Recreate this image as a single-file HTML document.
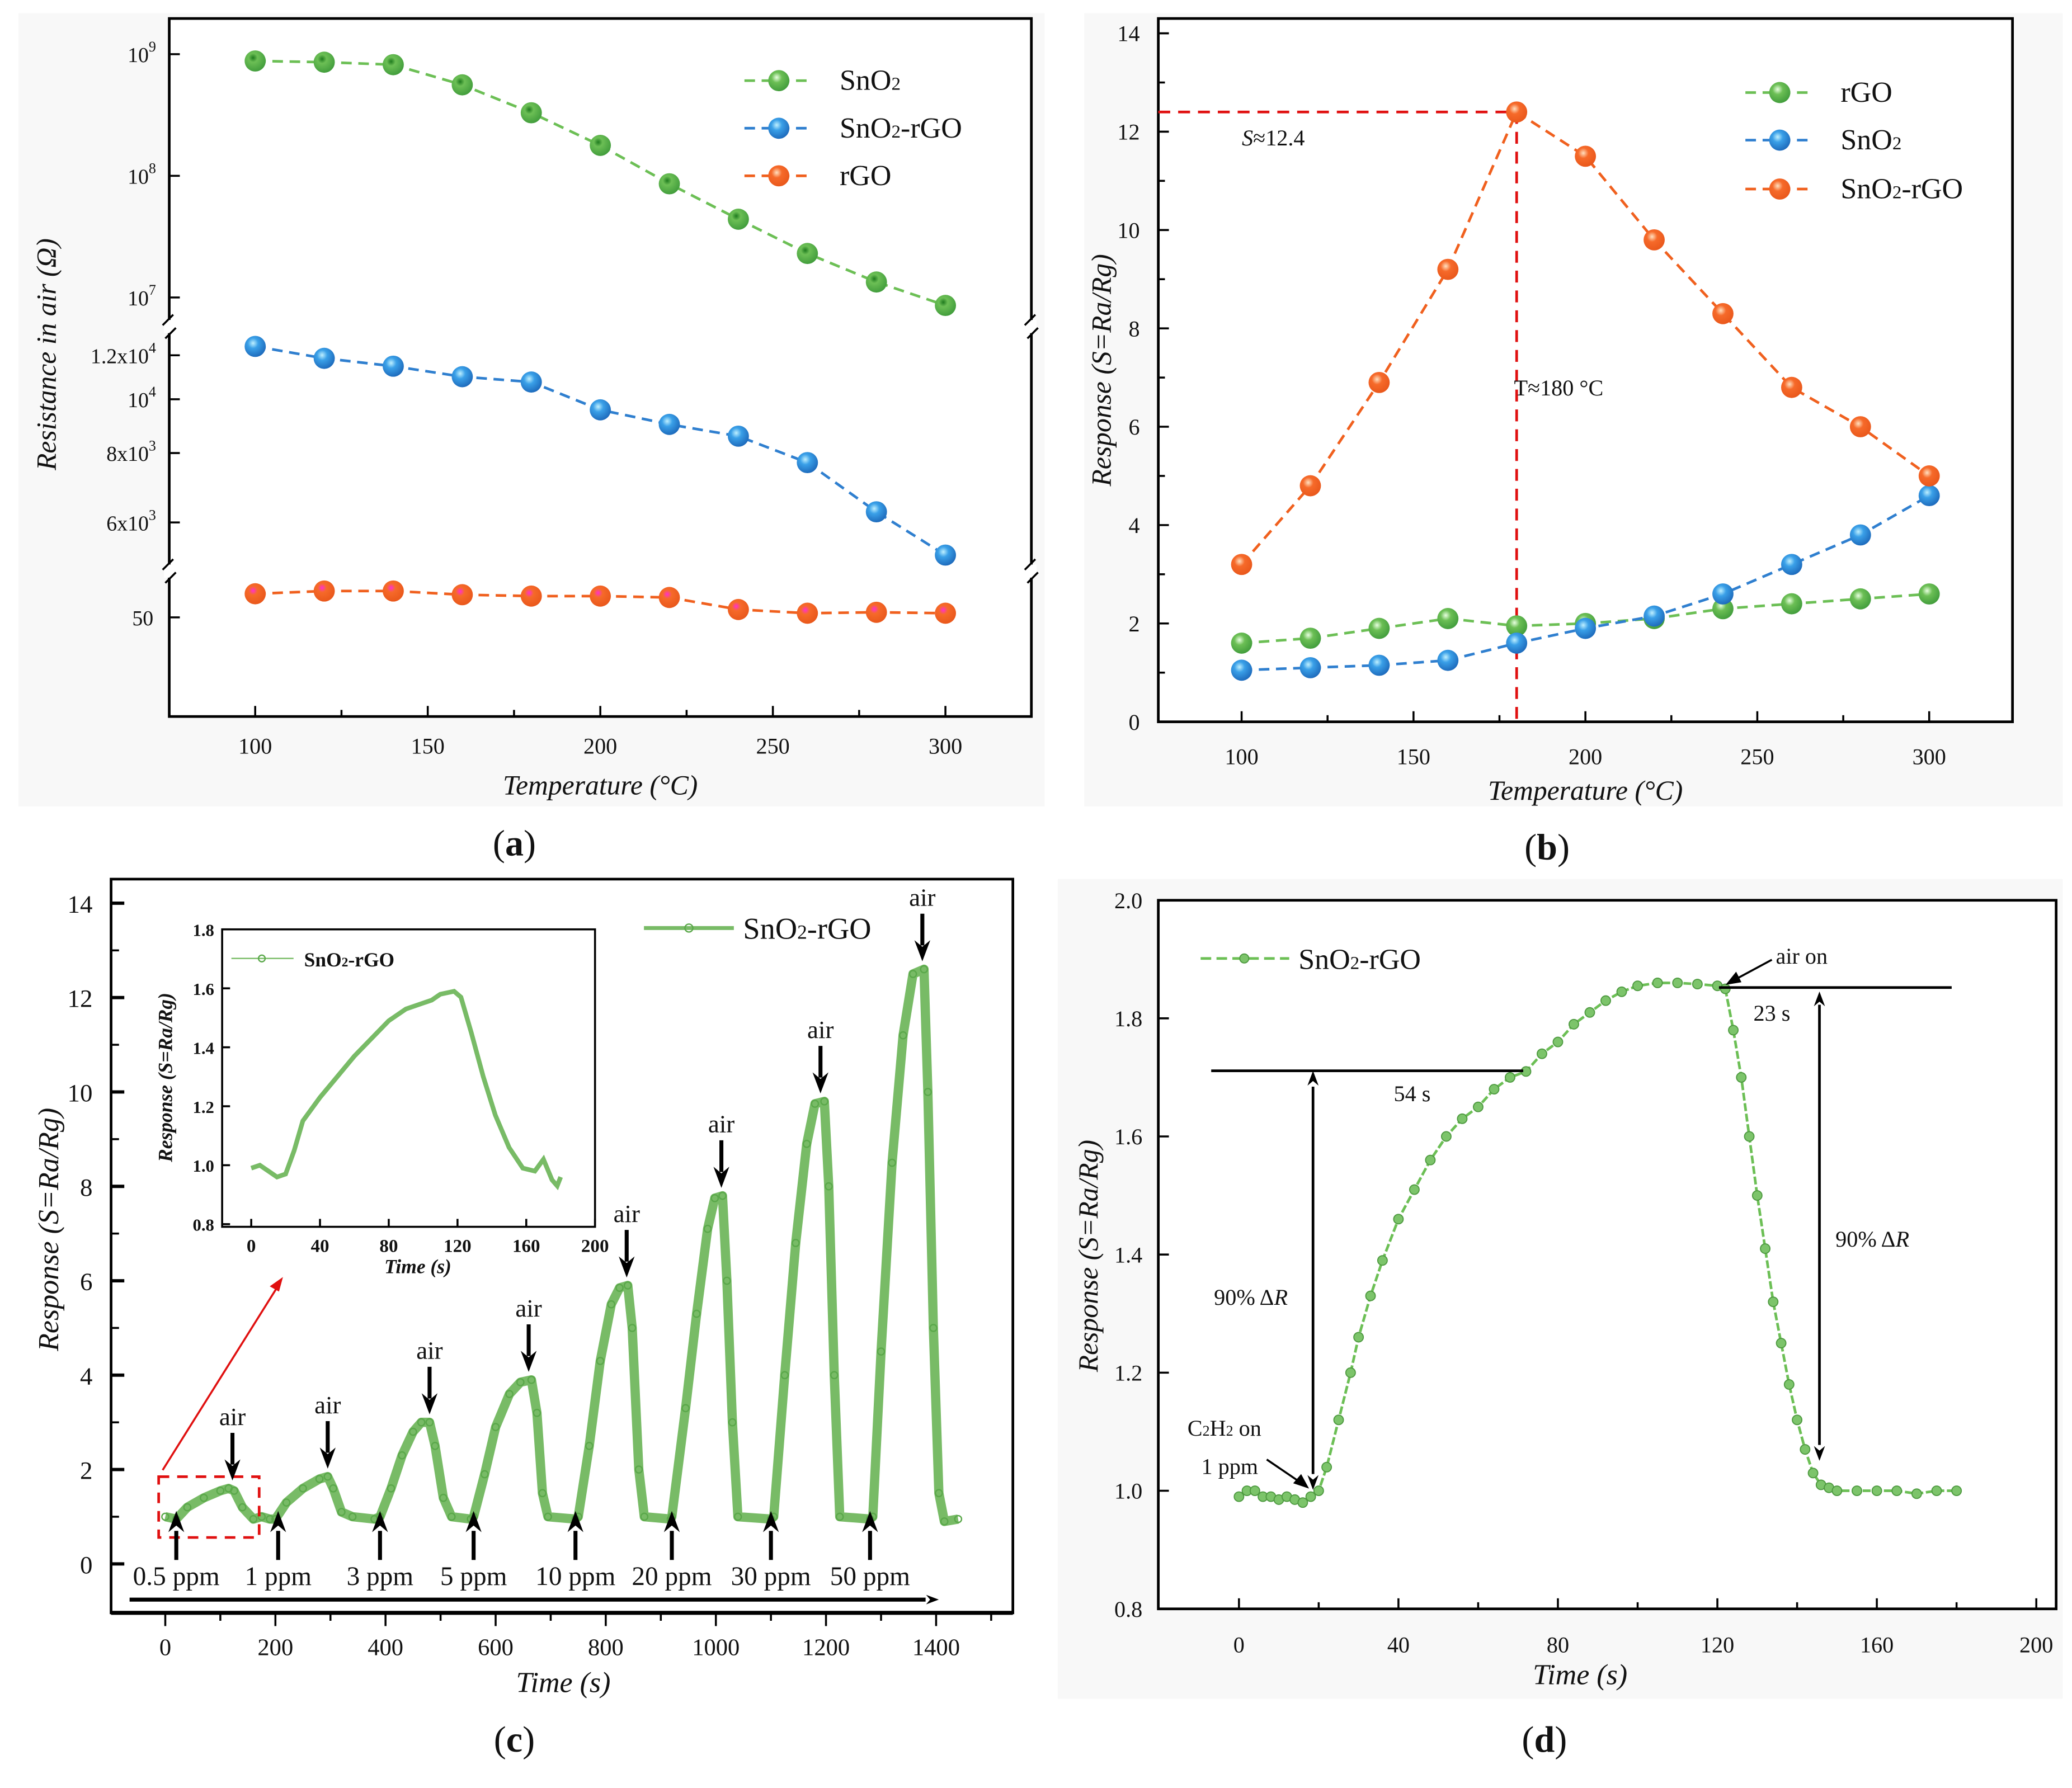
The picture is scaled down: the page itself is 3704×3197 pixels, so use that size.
<!DOCTYPE html>
<html><head><meta charset="utf-8"><style>
html,body{margin:0;padding:0;background:#fff}
svg{display:block}
text{font-family:"Liberation Serif",serif;fill:#111}
</style></head><body>
<svg id="fig" width="3704" height="3197" viewBox="0 0 1567 1352.5" preserveAspectRatio="none" xmlns="http://www.w3.org/2000/svg" font-family="Liberation Serif, serif">
<defs>
<radialGradient id="gG" cx="0.4" cy="0.35" r="0.7"><stop offset="0" stop-color="#1e7a1e"/><stop offset="0.3" stop-color="#6cbf55"/><stop offset="1" stop-color="#3e9a3a"/></radialGradient>
<radialGradient id="gB" cx="0.4" cy="0.35" r="0.7"><stop offset="0" stop-color="#bff0ff"/><stop offset="0.35" stop-color="#3aa0e8"/><stop offset="1" stop-color="#1b66b8"/></radialGradient>
<radialGradient id="gO" cx="0.4" cy="0.35" r="0.7"><stop offset="0" stop-color="#ff30d0"/><stop offset="0.3" stop-color="#f66a2a"/><stop offset="1" stop-color="#e8561a"/></radialGradient>
<radialGradient id="gG2" cx="0.4" cy="0.35" r="0.7"><stop offset="0" stop-color="#e8ffe0"/><stop offset="0.35" stop-color="#6cbf55"/><stop offset="1" stop-color="#3e9a3a"/></radialGradient>
<radialGradient id="gO2" cx="0.4" cy="0.35" r="0.7"><stop offset="0" stop-color="#ffe0c0"/><stop offset="0.35" stop-color="#f66a2a"/><stop offset="1" stop-color="#e8561a"/></radialGradient>
</defs>
<rect x="14" y="10" width="776" height="600" fill="#f8f8f8"/>
<rect x="820" y="10" width="740" height="600" fill="#f8f8f8"/>
<rect x="800" y="665" width="760" height="620" fill="#f8f8f8"/>
<g id="root"></g>
</svg>
<script>
// ---------- DATA ----------
const tempsA = [100,120,140,160,180,200,220,240,260,280,300];
const snO2Res = [8.8e8,8.6e8,8.2e8,5.6e8,3.3e8,1.78e8,8.6e7,4.4e7,2.3e7,1.34e7,8.6e6];
const compRes = [12450,11850,11470,10980,10740,9570,9010,8580,7690,6270,5240];
const rgoRes = [55.1,55.7,55.7,54.9,54.6,54.6,54.3,51.7,50.9,51.1,50.9];
const tempsB = [100,120,140,160,180,200,220,240,260,280,300];
const rgoResp = [1.6,1.7,1.9,2.1,1.95,2.0,2.1,2.3,2.4,2.5,2.6];
const snO2Resp = [1.05,1.1,1.15,1.25,1.6,1.9,2.15,2.6,3.2,3.8,4.6];
const compResp = [3.2,4.8,6.9,9.2,12.4,11.5,9.8,8.3,6.8,6.0,5.0];
const timeC = [0,20,40,70,100,115,125,140,160,175,190,200,220,250,280,295,305,320,340,380,390,410,430,450,465,480,490,505,520,555,560,580,600,625,645,665,675,685,695,745,750,770,790,810,825,840,848,860,870,918,920,945,965,985,998,1012,1020,1030,1040,1100,1105,1125,1145,1165,1180,1197,1205,1215,1225,1280,1285,1300,1320,1340,1358,1378,1385,1395,1405,1415,1440];
const respC = [1.0,0.95,1.2,1.4,1.55,1.6,1.55,1.2,0.95,1.0,0.95,0.95,1.3,1.6,1.8,1.85,1.6,1.1,1.0,0.95,1.0,1.6,2.3,2.8,3.0,3.0,2.5,1.4,1.0,0.95,1.0,1.9,2.9,3.6,3.85,3.9,3.2,1.5,1.0,0.95,1.0,2.5,4.3,5.5,5.85,5.9,5.0,2.0,1.0,0.95,1.0,3.3,5.3,7.1,7.75,7.8,6.0,3.0,1.0,0.95,1.0,4.0,6.8,8.9,9.75,9.8,8.0,4.0,1.0,0.95,1.0,4.5,8.5,11.2,12.5,12.6,10.0,5.0,1.5,0.9,0.95];
const gasStart = [20,205,390,560,745,920,1100,1280];
const airTimes = [122,295,480,660,838,1010,1190,1375];
const airVals = [1.6,1.85,3.0,3.9,5.9,7.8,9.8,12.6];
const concLabels = ["0.5 ppm","1 ppm","3 ppm","5 ppm","10 ppm","20 ppm","30 ppm","50 ppm"];
const timeI = [0,5,10,15,20,25,30,40,50,60,70,80,90,100,105,110,118,122,128,135,142,150,158,165,170,175,178,180];
const respI = [0.99,1.0,0.98,0.96,0.97,1.05,1.15,1.23,1.3,1.37,1.43,1.49,1.53,1.55,1.56,1.58,1.59,1.57,1.45,1.3,1.17,1.06,0.99,0.98,1.02,0.95,0.93,0.96];
const timeD = [0,2,4,6,8,10,12,14,16,18,20,22,25,28,30,33,36,40,44,48,52,56,60,64,68,72,76,80,84,88,92,96,100,105,110,115,120,122,124,126,128,130,132,134,136,138,140,142,144,146,148,150,155,160,165,170,175,180];
const respD = [0.99,1.0,1.0,0.99,0.99,0.985,0.99,0.985,0.98,0.99,1.0,1.04,1.12,1.2,1.26,1.33,1.39,1.46,1.51,1.56,1.6,1.63,1.65,1.68,1.7,1.71,1.74,1.76,1.79,1.81,1.83,1.845,1.855,1.86,1.86,1.858,1.855,1.85,1.78,1.7,1.6,1.5,1.41,1.32,1.25,1.18,1.12,1.07,1.03,1.01,1.005,1.0,1.0,1.0,1.0,0.995,1.0,1.0];

// ---------- HELPERS ----------
const NS="http://www.w3.org/2000/svg";
const root=document.getElementById('root');
function el(tag,attrs,parent){const e=document.createElementNS(NS,tag);for(const k in attrs)e.setAttribute(k,attrs[k]);(parent||root).appendChild(e);return e;}
function txt(x,y,s,size,parent,extra){const t=el('text',Object.assign({x:x,y:y,'font-size':size,'text-anchor':'middle','font-family':'Liberation Serif, serif'},extra||{}),parent);t.textContent=s;return t;}
function line(x1,y1,x2,y2,parent,extra){return el('line',Object.assign({x1,y1,x2,y2,stroke:'#000','stroke-width':1.5},extra||{}),parent);}
function arrowHead(x,y,dir,parent,s){s=s||9;let p;
 if(dir==='up')p=`${x},${y} ${x-s*0.6},${y+s*1.6} ${x},${y+s*1.1} ${x+s*0.6},${y+s*1.6}`;
 else if(dir==='down')p=`${x},${y} ${x-s*0.6},${y-s*1.6} ${x},${y-s*1.1} ${x+s*0.6},${y-s*1.6}`;
 else p=`${x},${y} ${x-s*1.6},${y-s*0.6} ${x-s*1.1},${y} ${x-s*1.6},${y+s*0.6}`;
 return el('polygon',{points:p,fill:'#000'},parent);}

// ---------- PANEL A ----------
const gA=el('g',{});


const xA=t=>193+(t-100)*2.61;
const yS=v=>41+(9-Math.log10(v))*92;
const yC=v=>302+(4-Math.log10(v))*420;
const yR=v=>467-(v-50)*3.5;
el('rect',{x:128,y:14,width:652,height:528,fill:'#fff',stroke:'#000','stroke-width':2},gA);
[100,150,200,250,300].forEach(t=>{line(xA(t),542,xA(t),534,gA);txt(xA(t),570,String(t),17,gA);});
[125,175,225,275].forEach(t=>line(xA(t),542,xA(t),537,gA));
function supLabel(x,y,base,exp,g){const t=el('text',{x:x,y:y,'font-size':16,'text-anchor':'end','font-family':'Liberation Serif, serif'},g);t.appendChild(document.createTextNode(base));const s=el('tspan',{'font-size':11,dy:-8},t);s.textContent=exp;}
[[1e9,'9'],[1e8,'8'],[1e7,'7']].forEach(([v,e])=>{line(128,yS(v),136,yS(v),gA);supLabel(118,yS(v)+6,'10',e,gA);});
[[12000,'1.2x10','4'],[10000,'10','4'],[8000,'8x10','3'],[6000,'6x10','3']].forEach(([v,b,e])=>{line(128,yC(v),136,yC(v),gA);supLabel(118,yC(v)+6,b,e,gA);});
line(128,yR(50),136,yR(50),gA);txt(108,yR(50)+6,'50',16,gA,{'text-anchor':'middle'});
[247,432].forEach(y=>{[128,780].forEach(x=>{el('rect',{x:x-4,y:y-5,width:8,height:10,fill:'#fff'},gA);line(x-5,y-1,x+3,y-9,gA);line(x-3,y+9,x+5,y+1,gA);});});
function series(xs,ys,xf,yf,color,grad,g,name,r){
 const pts=xs.map((x,i)=>xf(x)+','+yf(ys[i])).join(' ');
 const pl=el('polyline',{points:pts,fill:'none',stroke:color,'stroke-width':2,'stroke-dasharray':'8,5'},g);
 
 
 xs.forEach((x,i)=>{const c=el('circle',{cx:xf(x),cy:yf(ys[i]),r:r||8,fill:'url(#'+grad+')'},g);
  
  });
}
series(tempsA,snO2Res,xA,yS,'#6cbf55','gG',gA,'sno2-resistance');
series(tempsA,compRes,xA,yC,'#2f7fcf','gB',gA,'sno2-rgo-resistance');
series(tempsA,rgoRes,xA,yR,'#f0601e','gO',gA,'rgo-resistance');
function legendEntry(x1,x2,y,color,grad,label,g,size,name,dash){
 const lg=el('g',{},g);
 
 
 line(x1,y,x2,y,lg,{stroke:color,'stroke-width':2,'stroke-dasharray':dash||'8,5'});
 el('circle',{cx:(x1+x2)/2,cy:y,r:8,fill:'url(#'+grad+')'},lg);
 const t=el('text',{x:x2+20,y:y+7,'font-size':size,'font-family':'Liberation Serif, serif'},lg);t.innerHTML=label;}
legendEntry(563,615,61,'#6cbf55','gG2','SnO<tspan font-size="14">2</tspan>',gA,22,'legend-sno2');
legendEntry(563,615,97,'#2f7fcf','gB','SnO<tspan font-size="14">2</tspan>-rGO',gA,22,'legend-sno2-rgo');
legendEntry(563,615,133,'#f0601e','gO2','rGO',gA,22,'legend-rgo');
txt(454,601,'Temperature (°C)',21,gA,{'font-style':'italic'});
txt(0,0,'Resistance in air (Ω)',21,gA,{'font-style':'italic',transform:'translate(42,268) rotate(-90)'});
txt(389,647,'',28,gA).innerHTML='(<tspan font-weight="bold">a</tspan>)';

// ---------- PANEL B ----------
const gB=el('g',{});


const xB=t=>939+(t-100)*2.6;
const yB=v=>546-v*37.2;
el('rect',{x:876,y:14,width:646,height:532,fill:'#fff',stroke:'#000','stroke-width':2},gB);
[100,150,200,250,300].forEach(t=>{line(xB(t),546,xB(t),538,gB);txt(xB(t),578,String(t),17,gB);});
[125,175,225,275].forEach(t=>line(xB(t),546,xB(t),541,gB));
[0,2,4,6,8,10,12,14].forEach(v=>{line(876,yB(v),884,yB(v),gB);txt(862,yB(v)+6,String(v),17,gB,{'text-anchor':'end'});});
[1,3,5,7,9,11,13].forEach(v=>line(876,yB(v),881,yB(v),gB));
line(876,yB(12.4),xB(180),yB(12.4),gB,{stroke:'#e01010','stroke-dasharray':'9,6','stroke-width':2});
line(xB(180),yB(12.4),xB(180),546,gB,{stroke:'#e01010','stroke-dasharray':'9,6','stroke-width':2});
txt(963,110,'',17,gB).innerHTML='<tspan font-style="italic">S</tspan>≈12.4';
txt(1145,299,'T≈180 °C',17,gB,{'text-anchor':'start'});
series(tempsB,rgoResp,xB,yB,'#6cbf55','gG2',gB,'rgo-response');
series(tempsB,snO2Resp,xB,yB,'#2f7fcf','gB',gB,'sno2-response');
series(tempsB,compResp,xB,yB,'#f0601e','gO2',gB,'sno2-rgo-response');
legendEntry(1320,1372,70,'#6cbf55','gG2','rGO',gB,22,'legend-b-rgo');
legendEntry(1320,1372,106,'#2f7fcf','gB','SnO<tspan font-size="14">2</tspan>',gB,22,'legend-b-sno2');
legendEntry(1320,1372,143,'#f0601e','gO2','SnO<tspan font-size="14">2</tspan>-rGO',gB,22,'legend-b-sno2-rgo');
txt(1199,605,'Temperature (°C)',21,gB,{'font-style':'italic'});
txt(0,0,'Response (S=Ra/Rg)',21,gB,{'font-style':'italic',transform:'translate(840,280) rotate(-90)'});
txt(1170,650,'',28,gB).innerHTML='(<tspan font-weight="bold">b</tspan>)';

// ---------- PANEL C ----------
const gC=el('g',{});


const xC=t=>125+t*0.4164;
const yCc=v=>1183-v*35.7;
el('rect',{x:84,y:665,width:682,height:555,fill:'#fff',stroke:'#000','stroke-width':2},gC);
line(84,1220,766,1220,gC,{'stroke-width':3});
for(let t=-100;t<=1500;t+=100){if(xC(t)<84)continue;line(xC(t),1220,xC(t),t%200===0?1230:1226,gC);}
[0,200,400,600,800,1000,1200,1400].forEach(t=>txt(xC(t),1252,String(t),18,gC));
[0,2,4,6,8,10,12,14].forEach(v=>{line(84,yCc(v),94,yCc(v),gC,{'stroke-width':2.5});txt(70,yCc(v)+7,String(v),19,gC,{'text-anchor':'end'});});
[1,3,5,7,9,11,13].forEach(v=>line(84,yCc(v),90,yCc(v),gC));
const ptsC=timeC.map((t,i)=>xC(t)+','+yCc(respC[i])).join(' ');
const plC=el('polyline',{points:ptsC,fill:'none',stroke:'#78bb66','stroke-width':7,'stroke-linejoin':'round'},gC);


timeC.forEach((t,i)=>{const c=el('circle',{cx:xC(t),cy:yCc(respC[i]),r:2.6,fill:'none',stroke:'#5aa84a','stroke-width':1},gC);
 
 });
el('rect',{x:120,y:1117,width:76,height:46,fill:'none',stroke:'#e01010','stroke-width':2,'stroke-dasharray':'8,6'},gC);
line(123,1112,212,970,gC,{stroke:'#e01010','stroke-width':1.5});
el('polygon',{points:'214,966 204,973 211,977',fill:'#e01010'},gC);
gasStart.forEach((t,i)=>{const x=xC(t);line(x,1180,x,1158,gC,{'stroke-width':3});arrowHead(x,1143,'up',gC,10);
 txt(x,1199,concLabels[i],20,gC);});
airTimes.forEach((t,i)=>{const x=xC(t);const yt=yCc(airVals[i])-6;line(x,yt-36,x,yt-12,gC,{'stroke-width':3});arrowHead(x,yt,'down',gC,10);
 txt(x,yt-42,'air',19,gC);});
line(98,1210,700,1210,gC,{'stroke-width':3});arrowHead(710,1210,'right',gC,6);
txt(426,1280,'Time (s)',22,gC,{'font-style':'italic'});
txt(0,0,'Response (S=Ra/Rg)',22,gC,{'font-style':'italic',transform:'translate(44,930) rotate(-90)'});
line(487,702,555,702,gC,{stroke:'#78bb66','stroke-width':3});
el('circle',{cx:521,cy:702,r:3,fill:'none',stroke:'#5aa84a'},gC);
txt(562,710,'',23,gC,{'text-anchor':'start'}).innerHTML='SnO<tspan font-size="15">2</tspan>-rGO';
txt(389,1325,'',28,gC).innerHTML='(<tspan font-weight="bold">c</tspan>)';
// inset
const gI=el('g',{},gC);


const xI=t=>190+t*1.3;
const yI=v=>926-(v-0.8)*223;
el('rect',{x:168,y:703,width:282,height:225,fill:'#fff',stroke:'#000','stroke-width':1.5},gI);
[0,40,80,120,160,200].forEach(t=>{line(xI(t),928,xI(t),922,gI);txt(xI(t),947,String(t),14,gI,{'font-weight':'bold'});});
[0.8,1.0,1.2,1.4,1.6,1.8].forEach(v=>{line(168,yI(v),174,yI(v),gI);txt(162,yI(v)+5,v.toFixed(1),13,gI,{'text-anchor':'end','font-weight':'bold'});});
const plI=el('polyline',{points:timeI.map((t,i)=>xI(t)+','+yI(respI[i])).join(' '),fill:'none',stroke:'#78bb66','stroke-width':3.5},gI);


txt(316,963,'Time (s)',15,gI,{'font-style':'italic','font-weight':'bold'});
txt(0,0,'Response (S=Ra/Rg)',15,gI,{'font-style':'italic','font-weight':'bold',transform:'translate(130,815) rotate(-90)'});
line(175,725,222,725,gI,{stroke:'#78bb66','stroke-width':1});
el('circle',{cx:198,cy:725,r:2.5,fill:'none',stroke:'#5aa84a'},gI);
txt(230,731,'',15,gI,{'text-anchor':'start','font-weight':'bold'}).innerHTML='SnO<tspan font-size="10">2</tspan>-rGO';

// ---------- PANEL D ----------
const gD=el('g',{});


const xD=t=>937+t*3.015;
const yD=v=>1217-(v-0.8)*446.7;
el('rect',{x:876,y:681,width:679,height:536,fill:'#fff',stroke:'#000','stroke-width':2},gD);
[0,40,80,120,160,200].forEach(t=>{line(xD(t),1217,xD(t),1209,gD);txt(xD(t),1250,String(t),17,gD);});
[20,60,100,140,180].forEach(t=>line(xD(t),1217,xD(t),1212,gD));
[0.8,1.0,1.2,1.4,1.6,1.8,2.0].forEach(v=>{line(876,yD(v),884,yD(v),gD);txt(864,yD(v)+6,v.toFixed(1),17,gD,{'text-anchor':'end'});});
const plD=el('polyline',{points:timeD.map((t,i)=>xD(t)+','+yD(respD[i])).join(' '),fill:'none',stroke:'#6cbf55','stroke-width':2,'stroke-dasharray':'6,2'},gD);


timeD.forEach((t,i)=>{const c=el('circle',{cx:xD(t),cy:yD(respD[i]),r:3.6,fill:'#7cc46a',stroke:'#4e9a40','stroke-width':0.8},gD);
 
 });
line(916,810,1152,810,gD,{'stroke-width':2});
line(993,822,993,1115,gD,{'stroke-width':2});arrowHead(993,810,'up',gD,7);arrowHead(993,1127,'down',gD,7);
line(1300,747,1476,747,gD,{'stroke-width':2});
line(1376,760,1376,1093,gD,{'stroke-width':2});arrowHead(1376,750,'up',gD,7);arrowHead(1376,1105,'down',gD,7);
txt(1068,833,'54 s',17,gD);txt(1340,772,'23 s',17,gD);
txt(946,987,'',17,gD).innerHTML='90% Δ<tspan font-style="italic">R</tspan>';
txt(1416,943,'',17,gD).innerHTML='90% Δ<tspan font-style="italic">R</tspan>';
txt(1343,729,'air on',17,gD,{'text-anchor':'start'});
line(1340,726,1314,740,gD);el('polygon',{points:'1305,745 1313,735 1317,743',fill:'#000'},gD);
txt(926,1086,'',17,gD).innerHTML='C<tspan font-size="11">2</tspan>H<tspan font-size="11">2</tspan> on';
txt(930,1115,'1 ppm',17,gD);
line(958,1104,983,1121,gD);el('polygon',{points:'990,1126 978,1122 984,1115',fill:'#000'},gD);
line(908,725,975,725,gD,{stroke:'#6cbf55','stroke-width':2,'stroke-dasharray':'8,4'});
el('circle',{cx:941,cy:725,r:3.4,fill:'#7cc46a',stroke:'#4e9a40','stroke-width':0.8},gD);
txt(982,733,'',22,gD,{'text-anchor':'start'}).innerHTML='SnO<tspan font-size="14">2</tspan>-rGO';
txt(1195,1274,'Time (s)',22,gD,{'font-style':'italic'});
txt(0,0,'Response (S=Ra/Rg)',21,gD,{'font-style':'italic',transform:'translate(830,950) rotate(-90)'});
txt(1168,1325,'',28,gD).innerHTML='(<tspan font-weight="bold">d</tspan>)';
</script>
</body></html>
